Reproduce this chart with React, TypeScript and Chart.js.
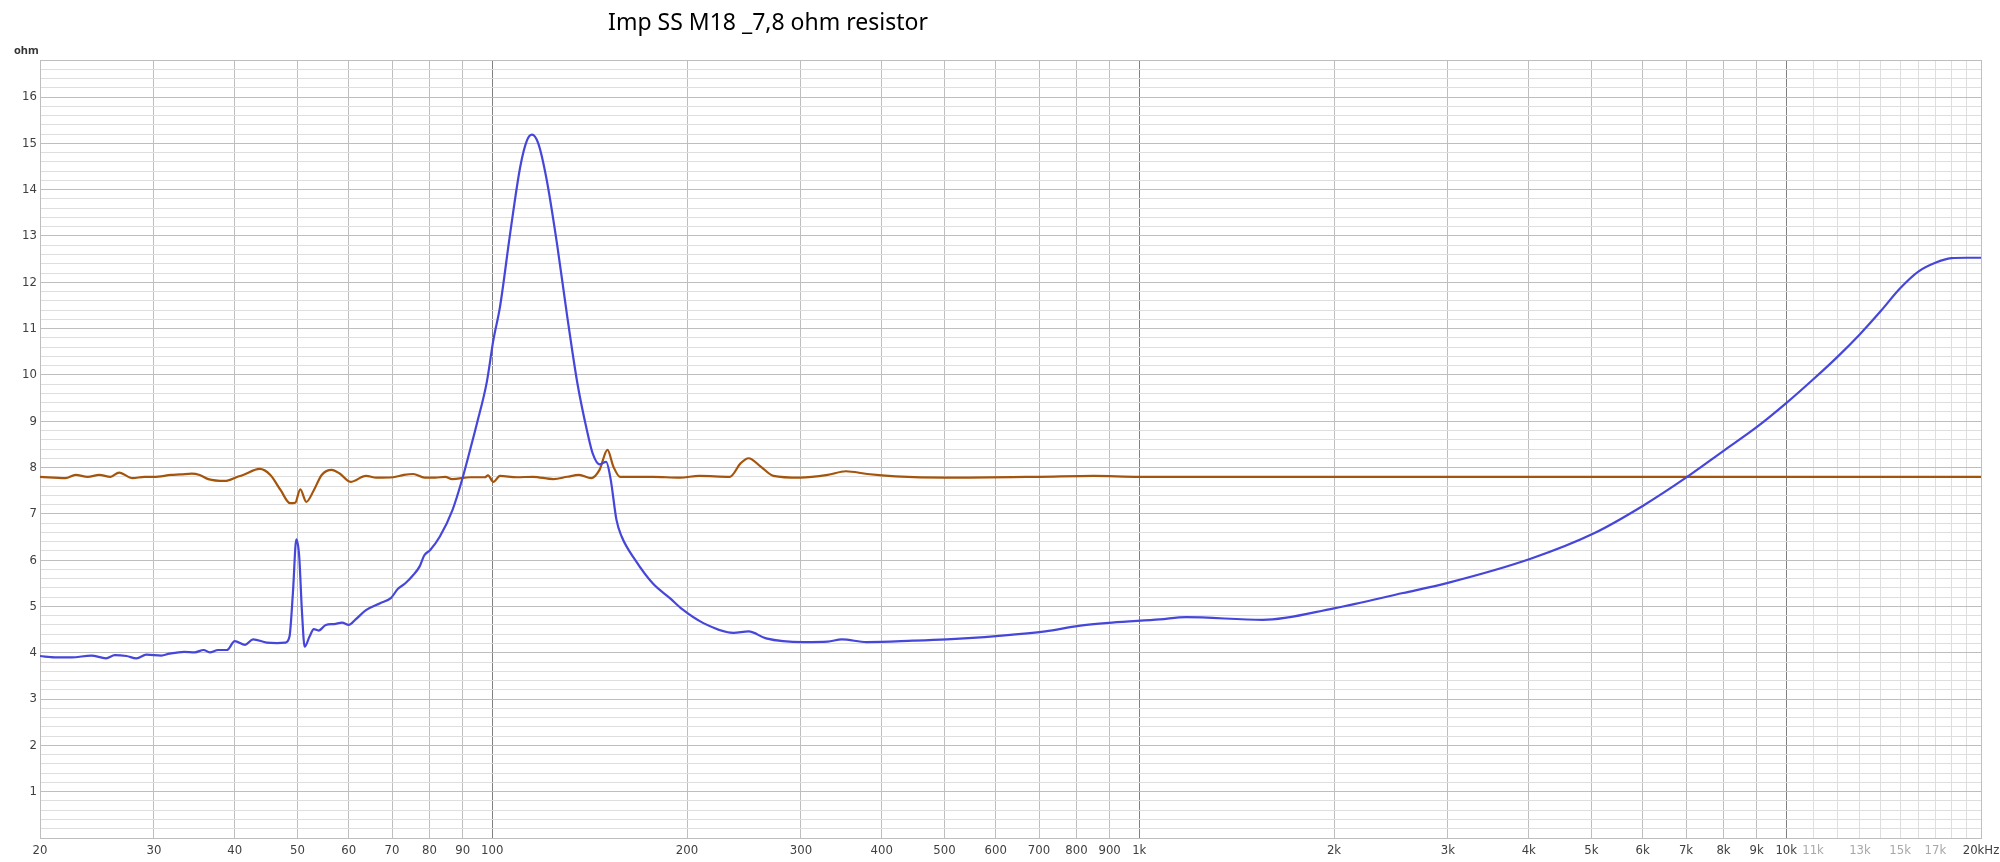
import React, { useEffect, useRef } from "react";
import { Chart, registerables } from "chart.js";

Chart.register(...registerables);

const TITLE = "Imp SS M18 _7,8 ohm resistor";
const Y_UNIT = "ohm";

const impFreq = [
  20, 21.1, 22.4, 24.0, 25.3, 26.1, 27.2, 28.2, 29.2, 30.8, 31.7, 33.4, 34.7, 35.8, 36.6, 37.7, 38.9,
  40.0, 41.5, 42.7, 44.8, 46.5, 47.9, 48.6, 49.2, 49.8, 50.3, 50.8, 51.3, 52.2, 53.0, 53.9, 55.3,
  57.0, 58.6, 60.0, 61.5, 63.8, 67.1, 69.7, 71.5, 73.4, 75.5, 77.2, 78.5, 80.2, 83.0, 86.8, 89.8,
  92.5, 94.7, 98.1, 100.4, 102.8, 106.6, 110.5, 113.2, 115.2, 117.8, 121.4, 125.9, 130.6, 135.4,
  140.4, 143.0, 146.5, 150.0, 152.4, 155.6, 158.5, 166.4, 177.0, 188.2, 196.6, 212, 236, 249, 265,
  303, 330, 347, 379, 447, 504, 601, 716, 806, 908, 1076, 1181, 1552, 2000, 2557, 3000, 4026, 5046,
  6000, 7000, 8000, 9000, 10000, 11000, 12000, 13000, 14000, 15000, 16000, 17000, 18000, 19000, 20000,
];
const impOhm = [
  3.93, 3.90, 3.90, 3.94, 3.88, 3.95, 3.93, 3.88, 3.96, 3.94, 3.98, 4.02, 4.01, 4.06, 4.01, 4.06, 4.06,
  4.25, 4.17, 4.29, 4.22, 4.21, 4.22, 4.35, 5.3, 6.45, 6.1, 4.9, 4.13, 4.35, 4.51, 4.48, 4.60,
  4.62, 4.65, 4.60, 4.72, 4.92, 5.07, 5.18, 5.38, 5.50, 5.68, 5.86, 6.10, 6.22, 6.51, 7.08, 7.73,
  8.40, 8.95, 9.85, 10.75, 11.47, 13.06, 14.50, 15.07, 15.19, 15.00, 14.21, 12.84, 11.26, 9.82,
  8.74, 8.30, 8.07, 8.12, 7.75, 6.87, 6.51, 6.00, 5.50, 5.18, 4.94, 4.64, 4.43, 4.46, 4.31,
  4.23, 4.24, 4.29, 4.23, 4.26, 4.29, 4.36, 4.46, 4.58, 4.65, 4.72, 4.77, 4.71, 4.96, 5.29, 5.51, 6.03, 6.58,
  7.17, 7.78, 8.36, 8.87, 9.39, 9.90, 10.39, 10.88, 11.38, 11.87, 12.23, 12.42, 12.52, 12.53, 12.53,
];

const resFreq = [
  20, 21.9, 22.7, 23.7, 24.7, 25.7, 26.5, 27.8, 29.0, 30.0, 31.9, 33.0, 34.3, 35.3, 36.4, 38.6, 40.4,
  41.2, 43.7, 45.4, 47.1, 48.7, 49.6, 50.5, 51.6, 53.0, 54.5, 56.5, 58.1, 60.4, 63.8, 66.2, 70.3, 73,
  75.5, 78.6, 81.6, 84.6, 86.7, 92.5, 97.4, 98.5, 100.4, 102.8, 109.1, 115.6, 124.3, 130.6, 136.2,
  142.2, 146.5, 150.7, 153.9, 157.6, 177, 195, 209, 233, 242, 249, 260, 272, 299, 330, 352, 380, 420,
  500, 700, 850, 1000, 2000, 5000, 10000, 20000,
];
const resOhm = [
  7.80, 7.77, 7.84, 7.80, 7.84, 7.80, 7.89, 7.77, 7.80, 7.80, 7.84, 7.85, 7.87, 7.84, 7.75, 7.71, 7.80,
  7.84, 7.97, 7.84, 7.51, 7.23, 7.24, 7.53, 7.26, 7.51, 7.84, 7.95, 7.87, 7.69, 7.82, 7.78, 7.79, 7.84,
  7.86, 7.78, 7.78, 7.80, 7.75, 7.79, 7.79, 7.83, 7.69, 7.82, 7.79, 7.80, 7.75, 7.80, 7.84,
  7.77, 7.95, 8.38, 8.02, 7.80, 7.80, 7.78, 7.82, 7.80, 8.09, 8.20, 8.02, 7.82, 7.78, 7.84, 7.92, 7.86, 7.81,
  7.78, 7.80, 7.82, 7.80, 7.80, 7.80, 7.80, 7.80,
];

const xTickValues = [
  20, 30, 40, 50, 60, 70, 80, 90, 100, 200, 300, 400, 500, 600, 700, 800, 900, 1000, 2000, 3000,
  4000, 5000, 6000, 7000, 8000, 9000, 10000, 11000, 12000, 13000, 14000, 15000, 16000, 17000,
  18000, 19000, 20000,
];
const xFaintLabels = [11000, 13000, 15000, 17000];
const xHiddenLabels = [12000, 14000, 16000, 18000, 19000];

const Y_MAX = 16.8;

function xLabel(v: number): string {
  if (xHiddenLabels.includes(v)) return "";
  if (v === 20000) return "20kHz";
  if (v >= 1000) return v / 1000 + "k";
  return String(v);
}

const TICK_FONT = '"Liberation Sans Narrow", "DejaVu Sans Condensed", sans-serif';

export default function App() {
  const ref = useRef<HTMLCanvasElement | null>(null);

  useEffect(() => {
    if (!ref.current) return;
    const textPlugin = {
      id: "texts",
      afterDraw(chart: any) {
        const ctx = chart.ctx;
        ctx.save();
        ctx.fillStyle = "#000";
        ctx.font = '23px "Noto Sans", "Open Sans", sans-serif';
        ctx.textAlign = "center";
        ctx.textBaseline = "middle";
        ctx.fillText(TITLE, 768, 23);
        ctx.fillStyle = "#333";
        ctx.font = 'bold 11px "Noto Sans", sans-serif';
        ctx.textAlign = "left";
        ctx.fillText(Y_UNIT, 14, 51);
        ctx.restore();
      },
    };

    const chart = new Chart(ref.current, {
      type: "line",
      data: {
        datasets: [
          {
            label: "Impedance",
            data: impFreq.map((f, i) => ({ x: f, y: impOhm[i] })),
            borderColor: "#4646DA",
            borderWidth: 2.2,
            pointRadius: 0,
            cubicInterpolationMode: "monotone",
          },
          {
            label: "Resistor",
            data: resFreq.map((f, i) => ({ x: f, y: resOhm[i] })),
            borderColor: "#A5540B",
            borderWidth: 2.2,
            pointRadius: 0,
            cubicInterpolationMode: "monotone",
          },
        ],
      },
      options: {
        animation: false,
        responsive: false,
        layout: { padding: { left: 0, right: 19, top: 60, bottom: 0 } },
        plugins: { legend: { display: false }, title: { display: false }, tooltip: { enabled: false } },
        scales: {
          x: {
            type: "logarithmic",
            min: 20,
            max: 20000,
            afterBuildTicks: (s: any) => {
              s.ticks = xTickValues.map((v) => ({ value: v }));
            },
            afterFit: (s: any) => {
              s.height = 24;
              s.paddingLeft = 0;
              s.paddingRight = 0;
            },
            border: { color: "#bebebe", width: 1 },
            grid: {
              drawTicks: false,
              lineWidth: 1,
              color: (c: any) => {
                const v = c.tick ? c.tick.value : 0;
                if (v === 100 || v === 1000 || v === 10000) return "#808080";
                if (v > 10000 && v < 20000) return "#dedede";
                return "#bebebe";
              },
            },
            ticks: {
              autoSkip: false,
              maxRotation: 0,
              minRotation: 0,
              padding: 5,
              font: { family: TICK_FONT, size: 13 },
              color: (c: any) => (xFaintLabels.includes(c.tick?.value) ? "#a8a8a8" : "#404040"),
              callback: (v: any) => xLabel(Number(v)),
            },
          },
          y: {
            type: "linear",
            min: 0,
            max: Y_MAX,
            afterBuildTicks: (s: any) => {
              const t = [];
              for (let i = 0; i <= 84; i++) t.push({ value: i / 5 });
              s.ticks = t;
            },
            afterFit: (s: any) => {
              s.width = 40;
            },
            border: { color: "#bebebe", width: 1 },
            grid: {
              drawTicks: false,
              lineWidth: 1,
              color: (c: any) => {
                const v = c.tick ? c.tick.value : 0;
                if (Math.abs(v - Math.round(v)) < 1e-6 || Math.abs(v - Y_MAX) < 1e-6) return "#bebebe";
                return "#dedede";
              },
            },
            ticks: {
              autoSkip: false,
              padding: 3,
              font: { family: TICK_FONT, size: 13 },
              color: "#404040",
              callback: (v: any) => {
                const n = Number(v);
                const r = Math.round(n);
                if (Math.abs(n - r) < 1e-6 && r >= 1 && r <= 16) return String(r);
                return "";
              },
            },
          },
        },
      } as any,
      plugins: [textPlugin],
    });
    return () => chart.destroy();
  }, []);

  return (
    <div style={{ position: "fixed", left: 0, top: 0, width: 2000, height: 862, background: "#fff" }}>
      <canvas ref={ref} width={2000} height={862} style={{ display: "block", width: 2000, height: 862 }} />
    </div>
  );
}
